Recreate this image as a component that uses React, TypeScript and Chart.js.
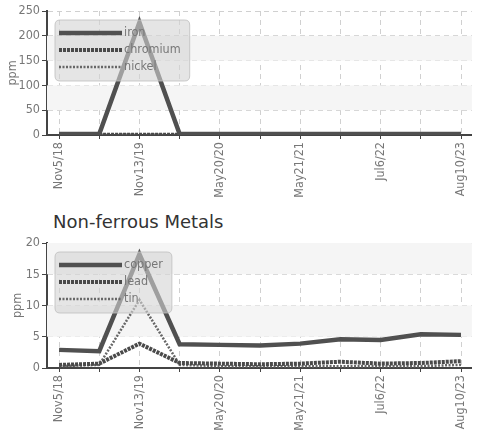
import React, { useEffect, useRef } from "react";
import { Chart, registerables } from "chart.js";

Chart.register(...registerables);

// ---- data ----
const sampleDates = [
  "Nov5/18", "May14/19", "Nov13/19", "Mar2/20", "May20/20", "Nov16/20",
  "May21/21", "Dec9/21", "Jul6/22", "Jan18/23", "Aug10/23",
];

const ironPpm = [2, 2, 227, 2, 2, 2, 2, 2, 2, 2, 2];
const chromiumPpm = [0.5, 0.5, 0.3, 0.5, 0.5, 0.5, 0.5, 0.5, 0.5, 0.5, 0.5];
const nickelPpm = [0.5, 0.5, 0.3, 1, 1, 0.5, 0.5, 0.5, 0.5, 0.5, 0.5];

const copperPpm = [2.9, 2.7, 18.2, 3.8, 3.7, 3.6, 3.9, 4.6, 4.5, 5.4, 5.3];
const leadPpm = [0.5, 0.7, 3.9, 0.8, 0.7, 0.6, 0.7, 1.0, 0.7, 0.8, 1.1];
const tinPpm = [0.3, 0.5, 10.9, 0.5, 0.3, 0.3, 0.3, 0.3, 0.3, 0.3, 0.5];

const ferrousTicks = [0, 50, 100, 150, 200, 250];
const nonFerrousTicks = [0, 5, 10, 15, 20];

const TICK_FONT = "'Liberation Sans Narrow', 'DejaVu Sans Condensed', sans-serif";
const FONT_SIZE = 12.5;

type Series = { name: string; values: number[]; color: string; width: number; dash: number[] };

const ferrousSeries: Series[] = [
  { name: "iron", values: ironPpm, color: "#505050", width: 4.5, dash: [] },
  { name: "chromium", values: chromiumPpm, color: "#4a4a4a", width: 4, dash: [3, 1] },
  { name: "nickel", values: nickelPpm, color: "#666666", width: 2.5, dash: [2, 1.5] },
];
const nonFerrousSeries: Series[] = [
  { name: "copper", values: copperPpm, color: "#505050", width: 4.5, dash: [] },
  { name: "lead", values: leadPpm, color: "#4a4a4a", width: 4, dash: [3, 1] },
  { name: "tin", values: tinPpm, color: "#666666", width: 2.5, dash: [2, 1.5] },
];

const bandPlugin = {
  id: "bands",
  beforeDatasetsDraw(chart: any, _a: any, opts: any) {
    const { ctx, chartArea, scales } = chart;
    const ticks: number[] = opts.ticks;
    ctx.save();
    ctx.fillStyle = "#f5f5f5";
    for (let i = 1; i + 1 < ticks.length; i += 2) {
      const yTop = scales.y.getPixelForValue(ticks[i + 1]);
      const yBot = scales.y.getPixelForValue(ticks[i]);
      ctx.fillRect(chartArea.left, yTop, chartArea.right - chartArea.left, yBot - yTop);
    }
    ctx.restore();
  },
};

const legendPlugin = {
  id: "boxLegend",
  afterDatasetsDraw(chart: any, _a: any, opts: any) {
    const { ctx, chartArea } = chart;
    const series: Series[] = opts.series;
    ctx.save();
    ctx.font = `${FONT_SIZE}px ${TICK_FONT}`;
    const left = 55;
    const lineX0 = 59;
    const lineX1 = 122;
    const textX = 124;
    let maxW = 0;
    series.forEach((s) => (maxW = Math.max(maxW, ctx.measureText(s.name).width)));
    const boxTop = chartArea.top + 9;
    const boxH = 61;
    const boxW = textX + maxW + 9 - left;
    const r = 5;
    ctx.beginPath();
    ctx.moveTo(left + r, boxTop);
    ctx.lineTo(left + boxW - r, boxTop);
    ctx.quadraticCurveTo(left + boxW, boxTop, left + boxW, boxTop + r);
    ctx.lineTo(left + boxW, boxTop + boxH - r);
    ctx.quadraticCurveTo(left + boxW, boxTop + boxH, left + boxW - r, boxTop + boxH);
    ctx.lineTo(left + r, boxTop + boxH);
    ctx.quadraticCurveTo(left, boxTop + boxH, left, boxTop + boxH - r);
    ctx.lineTo(left, boxTop + r);
    ctx.quadraticCurveTo(left, boxTop, left + r, boxTop);
    ctx.closePath();
    ctx.fillStyle = "rgba(212,212,212,0.6)";
    ctx.fill();
    ctx.strokeStyle = "rgba(190,190,190,0.8)";
    ctx.lineWidth = 1;
    ctx.stroke();
    series.forEach((s, i) => {
      const y = chartArea.top + 22 + i * 17;
      ctx.beginPath();
      ctx.setLineDash(s.dash);
      ctx.lineWidth = s.width;
      ctx.strokeStyle = s.color;
      ctx.moveTo(lineX0, y);
      ctx.lineTo(lineX1, y);
      ctx.stroke();
      ctx.setLineDash([]);
      ctx.fillStyle = "#777";
      ctx.textBaseline = "middle";
      ctx.textAlign = "left";
      ctx.fillText(s.name, textX, y);
    });
    ctx.restore();
  },
};

function buildConfig(series: Series[], ticks: number[], topPad: number, xHeight: number, titlePad: number): any {
  const yMax = ticks[ticks.length - 1];
  return {
    type: "line",
    data: {
      datasets: series.map((s) => ({
        label: s.name,
        data: s.values.map((v, i) => ({ x: i, y: v })),
        borderColor: s.color,
        borderWidth: s.width,
        borderDash: s.dash,
        pointRadius: 0,
        tension: 0,
        fill: false,
      })),
    },
    options: {
      responsive: false,
      animation: false,
      events: [],
      layout: { padding: { top: topPad, left: 0, right: 0, bottom: 0 } },
      plugins: {
        legend: { display: false },
        tooltip: { enabled: false },
        bands: { ticks },
        boxLegend: { series },
      },
      scales: {
        x: {
          type: "linear",
          min: -0.3,
          max: sampleDates.length - 1 + 0.27,
          afterFit: (s: any) => { s.height = xHeight; },
          afterBuildTicks: (s: any) => {
            s.ticks = sampleDates.map((_, i) => ({ value: i }));
          },
          ticks: {
            autoSkip: false,
            maxRotation: 90,
            minRotation: 90,
            includeBounds: false,
            padding: 3,
            color: "#777",
            font: { family: TICK_FONT, size: FONT_SIZE },
            callback: (v: number) => (v % 2 === 0 ? sampleDates[v] : ""),
          },
          grid: {
            color: "#d0d0d0",
            tickLength: 4,
            tickColor: "#444",
            drawTicks: true,
          },
          border: { color: "#444", width: 2, dash: [5, 4] },
        },
        y: {
          min: 0,
          max: yMax,
          afterFit: (s: any) => { s.width = 47; },
          afterBuildTicks: (s: any) => {
            s.ticks = ticks.map((v) => ({ value: v }));
          },
          ticks: {
            padding: 2,
            color: "#777",
            font: { family: TICK_FONT, size: FONT_SIZE },
          },
          title: {
            display: true,
            text: "ppm",
            color: "#777",
            padding: { top: titlePad, bottom: 0 },
            font: { family: TICK_FONT, size: FONT_SIZE },
          },
          grid: {
            color: "#d0d0d0",
            tickLength: 5,
            tickColor: "#444",
          },
          border: { color: "#444", width: 2, dash: [5, 4] },
        },
      },
    },
    plugins: [bandPlugin, legendPlugin],
  };
}

function LineChart({ series, ticks, width, height, topPad, xHeight, titlePad }: any) {
  const ref = useRef<HTMLCanvasElement | null>(null);
  useEffect(() => {
    if (!ref.current) return;
    const chart = new Chart(ref.current, buildConfig(series, ticks, topPad, xHeight, titlePad));
    return () => chart.destroy();
  }, []);
  return <canvas ref={ref} width={width} height={height} style={{ width, height, display: "block" }} />;
}

export default function App() {
  return (
    <div style={{ position: "absolute", left: 0, top: 0, width: 479, height: 431, background: "#fff", overflow: "hidden" }}>
      <div style={{ position: "absolute", left: 0, top: 0 }}>
        <LineChart series={ferrousSeries} ticks={ferrousTicks} width={479} height={200} topPad={11} xHeight={65} titlePad={5} />
      </div>
      <div
        style={{
          position: "absolute",
          left: 53,
          top: 212,
          fontFamily: "'DejaVu Sans', sans-serif",
          fontSize: 18,
          lineHeight: "20px",
          color: "#333",
          whiteSpace: "nowrap",
        }}
      >
        Non-ferrous Metals
      </div>
      <div style={{ position: "absolute", left: 0, top: 228 }}>
        <LineChart series={nonFerrousSeries} ticks={nonFerrousTicks} width={479} height={203} topPad={15} xHeight={63} titlePad={10} />
      </div>
    </div>
  );
}
